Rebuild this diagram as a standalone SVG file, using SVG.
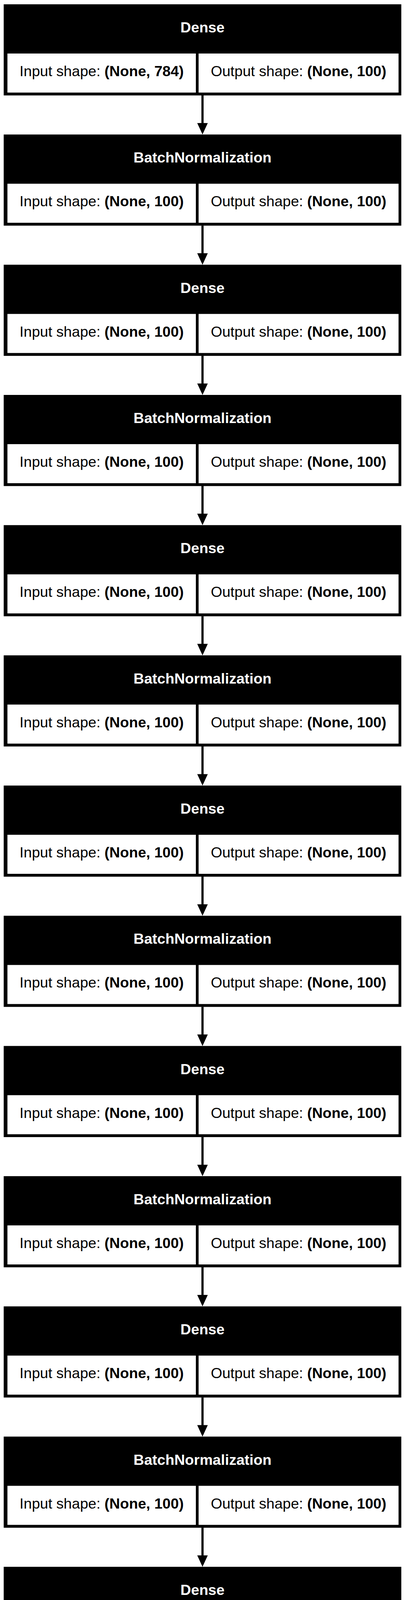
<svg xmlns="http://www.w3.org/2000/svg" width="1036" height="6922" viewBox="0 0 1036 6922">
<style>
.bg{fill:#ffffff}
.box{fill:#000000}
.cell{fill:#ffffff}
.title{font-family:"Liberation Sans",Arial,sans-serif;font-size:37.6px;font-weight:bold;fill:#ffffff;text-anchor:middle}
.lbl{font-family:"Liberation Sans",Arial,sans-serif;font-size:37.6px;fill:#000000;text-anchor:middle}
.b{font-weight:bold}
.shaft{stroke:#000000;stroke-width:5.6;fill:none}
.head{fill:#000000;stroke:none}
</style>
<defs>
<g id="edge">
<line class="shaft" x1="518" y1="244" x2="518" y2="316"/>
<polygon class="head" points="504.5,315 531.5,315 518,344.3"/>
</g>
</defs>
<rect class="bg" x="0" y="0" width="1036" height="6922"/>
<g id="connectors">
<use href="#edge" transform="translate(0,0)"/>
<use href="#edge" transform="translate(0,333.333)"/>
<use href="#edge" transform="translate(0,666.667)"/>
<use href="#edge" transform="translate(0,1000)"/>
<use href="#edge" transform="translate(0,1333.333)"/>
<use href="#edge" transform="translate(0,1666.667)"/>
<use href="#edge" transform="translate(0,2000)"/>
<use href="#edge" transform="translate(0,2333.333)"/>
<use href="#edge" transform="translate(0,2666.667)"/>
<use href="#edge" transform="translate(0,3000)"/>
<use href="#edge" transform="translate(0,3333.333)"/>
<use href="#edge" transform="translate(0,3666.667)"/>
<use href="#edge" transform="translate(0,4000)"/>
<use href="#edge" transform="translate(0,4333.333)"/>
<use href="#edge" transform="translate(0,4666.667)"/>
<use href="#edge" transform="translate(0,5000)"/>
<use href="#edge" transform="translate(0,5333.333)"/>
<use href="#edge" transform="translate(0,5666.667)"/>
<use href="#edge" transform="translate(0,6000)"/>
<use href="#edge" transform="translate(0,6333.333)"/>
</g>
<g id="node0">
<rect class="box" x="9.5" y="11" width="1017" height="233.3"/>
<rect class="cell" x="19" y="137" width="482" height="100"/>
<rect class="cell" x="508" y="137" width="511.5" height="100"/>
<text class="title" x="518" y="83">Dense</text>
<text class="lbl" x="260" y="195">Input shape: <tspan class="b">(None, 784)</tspan></text>
<text class="lbl" x="763.75" y="195">Output shape: <tspan class="b">(None, 100)</tspan></text>
</g>
<g id="node1" transform="translate(0,333.333)">
<rect class="box" x="9.5" y="11" width="1017" height="233.3"/>
<rect class="cell" x="19" y="137" width="482" height="100"/>
<rect class="cell" x="508" y="137" width="511.5" height="100"/>
<text class="title" x="518" y="83">BatchNormalization</text>
<text class="lbl" x="260" y="195">Input shape: <tspan class="b">(None, 100)</tspan></text>
<text class="lbl" x="763.75" y="195">Output shape: <tspan class="b">(None, 100)</tspan></text>
</g>
<g id="node2" transform="translate(0,666.667)">
<rect class="box" x="9.5" y="11" width="1017" height="233.3"/>
<rect class="cell" x="19" y="137" width="482" height="100"/>
<rect class="cell" x="508" y="137" width="511.5" height="100"/>
<text class="title" x="518" y="83">Dense</text>
<text class="lbl" x="260" y="195">Input shape: <tspan class="b">(None, 100)</tspan></text>
<text class="lbl" x="763.75" y="195">Output shape: <tspan class="b">(None, 100)</tspan></text>
</g>
<g id="node3" transform="translate(0,1000)">
<rect class="box" x="9.5" y="11" width="1017" height="233.3"/>
<rect class="cell" x="19" y="137" width="482" height="100"/>
<rect class="cell" x="508" y="137" width="511.5" height="100"/>
<text class="title" x="518" y="83">BatchNormalization</text>
<text class="lbl" x="260" y="195">Input shape: <tspan class="b">(None, 100)</tspan></text>
<text class="lbl" x="763.75" y="195">Output shape: <tspan class="b">(None, 100)</tspan></text>
</g>
<g id="node4" transform="translate(0,1333.333)">
<rect class="box" x="9.5" y="11" width="1017" height="233.3"/>
<rect class="cell" x="19" y="137" width="482" height="100"/>
<rect class="cell" x="508" y="137" width="511.5" height="100"/>
<text class="title" x="518" y="83">Dense</text>
<text class="lbl" x="260" y="195">Input shape: <tspan class="b">(None, 100)</tspan></text>
<text class="lbl" x="763.75" y="195">Output shape: <tspan class="b">(None, 100)</tspan></text>
</g>
<g id="node5" transform="translate(0,1666.667)">
<rect class="box" x="9.5" y="11" width="1017" height="233.3"/>
<rect class="cell" x="19" y="137" width="482" height="100"/>
<rect class="cell" x="508" y="137" width="511.5" height="100"/>
<text class="title" x="518" y="83">BatchNormalization</text>
<text class="lbl" x="260" y="195">Input shape: <tspan class="b">(None, 100)</tspan></text>
<text class="lbl" x="763.75" y="195">Output shape: <tspan class="b">(None, 100)</tspan></text>
</g>
<g id="node6" transform="translate(0,2000)">
<rect class="box" x="9.5" y="11" width="1017" height="233.3"/>
<rect class="cell" x="19" y="137" width="482" height="100"/>
<rect class="cell" x="508" y="137" width="511.5" height="100"/>
<text class="title" x="518" y="83">Dense</text>
<text class="lbl" x="260" y="195">Input shape: <tspan class="b">(None, 100)</tspan></text>
<text class="lbl" x="763.75" y="195">Output shape: <tspan class="b">(None, 100)</tspan></text>
</g>
<g id="node7" transform="translate(0,2333.333)">
<rect class="box" x="9.5" y="11" width="1017" height="233.3"/>
<rect class="cell" x="19" y="137" width="482" height="100"/>
<rect class="cell" x="508" y="137" width="511.5" height="100"/>
<text class="title" x="518" y="83">BatchNormalization</text>
<text class="lbl" x="260" y="195">Input shape: <tspan class="b">(None, 100)</tspan></text>
<text class="lbl" x="763.75" y="195">Output shape: <tspan class="b">(None, 100)</tspan></text>
</g>
<g id="node8" transform="translate(0,2666.667)">
<rect class="box" x="9.5" y="11" width="1017" height="233.3"/>
<rect class="cell" x="19" y="137" width="482" height="100"/>
<rect class="cell" x="508" y="137" width="511.5" height="100"/>
<text class="title" x="518" y="83">Dense</text>
<text class="lbl" x="260" y="195">Input shape: <tspan class="b">(None, 100)</tspan></text>
<text class="lbl" x="763.75" y="195">Output shape: <tspan class="b">(None, 100)</tspan></text>
</g>
<g id="node9" transform="translate(0,3000)">
<rect class="box" x="9.5" y="11" width="1017" height="233.3"/>
<rect class="cell" x="19" y="137" width="482" height="100"/>
<rect class="cell" x="508" y="137" width="511.5" height="100"/>
<text class="title" x="518" y="83">BatchNormalization</text>
<text class="lbl" x="260" y="195">Input shape: <tspan class="b">(None, 100)</tspan></text>
<text class="lbl" x="763.75" y="195">Output shape: <tspan class="b">(None, 100)</tspan></text>
</g>
<g id="node10" transform="translate(0,3333.333)">
<rect class="box" x="9.5" y="11" width="1017" height="233.3"/>
<rect class="cell" x="19" y="137" width="482" height="100"/>
<rect class="cell" x="508" y="137" width="511.5" height="100"/>
<text class="title" x="518" y="83">Dense</text>
<text class="lbl" x="260" y="195">Input shape: <tspan class="b">(None, 100)</tspan></text>
<text class="lbl" x="763.75" y="195">Output shape: <tspan class="b">(None, 100)</tspan></text>
</g>
<g id="node11" transform="translate(0,3666.667)">
<rect class="box" x="9.5" y="11" width="1017" height="233.3"/>
<rect class="cell" x="19" y="137" width="482" height="100"/>
<rect class="cell" x="508" y="137" width="511.5" height="100"/>
<text class="title" x="518" y="83">BatchNormalization</text>
<text class="lbl" x="260" y="195">Input shape: <tspan class="b">(None, 100)</tspan></text>
<text class="lbl" x="763.75" y="195">Output shape: <tspan class="b">(None, 100)</tspan></text>
</g>
<g id="node12" transform="translate(0,4000)">
<rect class="box" x="9.5" y="11" width="1017" height="233.3"/>
<rect class="cell" x="19" y="137" width="482" height="100"/>
<rect class="cell" x="508" y="137" width="511.5" height="100"/>
<text class="title" x="518" y="83">Dense</text>
<text class="lbl" x="260" y="195">Input shape: <tspan class="b">(None, 100)</tspan></text>
<text class="lbl" x="763.75" y="195">Output shape: <tspan class="b">(None, 100)</tspan></text>
</g>
<g id="node13" transform="translate(0,4333.333)">
<rect class="box" x="9.5" y="11" width="1017" height="233.3"/>
<rect class="cell" x="19" y="137" width="482" height="100"/>
<rect class="cell" x="508" y="137" width="511.5" height="100"/>
<text class="title" x="518" y="83">BatchNormalization</text>
<text class="lbl" x="260" y="195">Input shape: <tspan class="b">(None, 100)</tspan></text>
<text class="lbl" x="763.75" y="195">Output shape: <tspan class="b">(None, 100)</tspan></text>
</g>
<g id="node14" transform="translate(0,4666.667)">
<rect class="box" x="9.5" y="11" width="1017" height="233.3"/>
<rect class="cell" x="19" y="137" width="482" height="100"/>
<rect class="cell" x="508" y="137" width="511.5" height="100"/>
<text class="title" x="518" y="83">Dense</text>
<text class="lbl" x="260" y="195">Input shape: <tspan class="b">(None, 100)</tspan></text>
<text class="lbl" x="763.75" y="195">Output shape: <tspan class="b">(None, 100)</tspan></text>
</g>
<g id="node15" transform="translate(0,5000)">
<rect class="box" x="9.5" y="11" width="1017" height="233.3"/>
<rect class="cell" x="19" y="137" width="482" height="100"/>
<rect class="cell" x="508" y="137" width="511.5" height="100"/>
<text class="title" x="518" y="83">BatchNormalization</text>
<text class="lbl" x="260" y="195">Input shape: <tspan class="b">(None, 100)</tspan></text>
<text class="lbl" x="763.75" y="195">Output shape: <tspan class="b">(None, 100)</tspan></text>
</g>
<g id="node16" transform="translate(0,5333.333)">
<rect class="box" x="9.5" y="11" width="1017" height="233.3"/>
<rect class="cell" x="19" y="137" width="482" height="100"/>
<rect class="cell" x="508" y="137" width="511.5" height="100"/>
<text class="title" x="518" y="83">Dense</text>
<text class="lbl" x="260" y="195">Input shape: <tspan class="b">(None, 100)</tspan></text>
<text class="lbl" x="763.75" y="195">Output shape: <tspan class="b">(None, 100)</tspan></text>
</g>
<g id="node17" transform="translate(0,5666.667)">
<rect class="box" x="9.5" y="11" width="1017" height="233.3"/>
<rect class="cell" x="19" y="137" width="482" height="100"/>
<rect class="cell" x="508" y="137" width="511.5" height="100"/>
<text class="title" x="518" y="83">BatchNormalization</text>
<text class="lbl" x="260" y="195">Input shape: <tspan class="b">(None, 100)</tspan></text>
<text class="lbl" x="763.75" y="195">Output shape: <tspan class="b">(None, 100)</tspan></text>
</g>
<g id="node18" transform="translate(0,6000)">
<rect class="box" x="9.5" y="11" width="1017" height="233.3"/>
<rect class="cell" x="19" y="137" width="482" height="100"/>
<rect class="cell" x="508" y="137" width="511.5" height="100"/>
<text class="title" x="518" y="83">Dense</text>
<text class="lbl" x="260" y="195">Input shape: <tspan class="b">(None, 100)</tspan></text>
<text class="lbl" x="763.75" y="195">Output shape: <tspan class="b">(None, 100)</tspan></text>
</g>
<g id="node19" transform="translate(0,6333.333)">
<rect class="box" x="9.5" y="11" width="1017" height="233.3"/>
<rect class="cell" x="19" y="137" width="482" height="100"/>
<rect class="cell" x="508" y="137" width="511.5" height="100"/>
<text class="title" x="518" y="83">BatchNormalization</text>
<text class="lbl" x="260" y="195">Input shape: <tspan class="b">(None, 100)</tspan></text>
<text class="lbl" x="763.75" y="195">Output shape: <tspan class="b">(None, 100)</tspan></text>
</g>
<g id="node20" transform="translate(0,6666.667)">
<rect class="box" x="19.3" y="11" width="997.4" height="233.3"/>
<rect class="cell" x="27.3" y="137" width="481.7" height="100"/>
<rect class="cell" x="516" y="137" width="492.7" height="100"/>
<text class="title" x="518" y="83">Dense</text>
<text class="lbl" x="268.2" y="195">Input shape: <tspan class="b">(None, 100)</tspan></text>
<text class="lbl" x="762.3" y="195">Output shape: <tspan class="b">(None, 10)</tspan></text>
</g>
</svg>
